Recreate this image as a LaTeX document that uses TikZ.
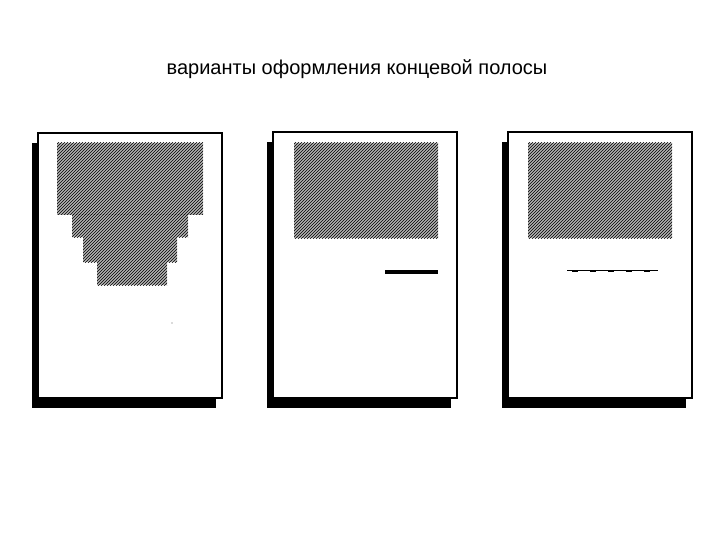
\documentclass[tikz,border=0pt]{standalone}
\usepackage{fontspec}
\setmainfont{Liberation Sans}
\usetikzlibrary{patterns}
\tikzset{
    sheet/.style  = {draw=black, line width=1.2pt, fill=white},
    shadow/.style = {fill=black},
    hatch/.style  = {fill=black!30, pattern color=black,
            postaction={pattern=north east lines}},
    rule/.style   = {draw=black, line width=4pt},
}
\newcommand{\PageX}[4]{% x0,y0,x1,y1
    % shadow (left and bottom)
    \fill[shadow] (#1-6,#2+10) rectangle (#3-6,#4+10);
    % sheet
    \draw[sheet] (#1,#2) rectangle (#3,#4);
}
\begin{document}
\begin{tikzpicture}[x=1pt,y=-1pt]
    \useasboundingbox (0,0) rectangle (720,540);
    \node[font=\fontsize{20}{24}\selectfont] (title) at (357,69) {варианты оформления концевой полосы};

    % first page: stepped end
    \PageX{38}{133}{222}{398}
    \fill[hatch] (57,143) rectangle (203,215);
    \fill[hatch] (72,215) rectangle (188,237);
    \fill[hatch] (83,237) rectangle (177,262);
    \fill[hatch] (97,262) rectangle (167,285);
    \fill[black!60] (172,323) circle (0.6);

    % second page: short rule at right
    \PageX{273}{132}{457}{398}
    \fill[hatch] (294,143) rectangle (438,238);
    \draw[rule] (385,272) -- (438,272);

    % third page: centred thin rule
    \PageX{508}{132}{692}{398}
    \fill[hatch] (528,143) rectangle (672,238);
    \draw[black, line width=1pt] (567,270) -- (658,270);
    \foreach \tx in {572,590,608,626,644}
        \draw[black, line width=1pt] (\tx,271) -- ++(6,0);
\end{tikzpicture}
\end{document}
